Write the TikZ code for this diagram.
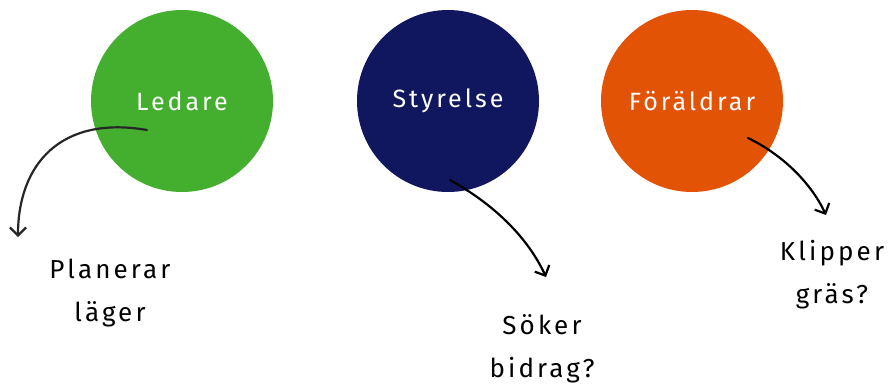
\documentclass[tikz,border=0pt]{standalone}
\usepackage{fontspec}
\setmainfont{Fira Sans}[LetterSpace=12]
\usetikzlibrary{arrows.meta}
\definecolor{leadgreen}{HTML}{44AF2E}
\definecolor{boardnavy}{HTML}{10175E}
\definecolor{parentorange}{HTML}{E35306}
\begin{document}
\begin{tikzpicture}[x=1pt,y=-1pt,line width=2.2pt,line cap=round,
  >={Straight Barb[length=8pt,width=16pt]},
  role/.style={circle,minimum size=182pt,inner sep=0pt,text=white,
    font=\fontsize{25}{27}\selectfont},
  task/.style={align=center,font=\fontsize{26}{43}\selectfont}]
  \useasboundingbox (0,0) rectangle (889,391);
  % the three groups
  \node[role,fill=leadgreen] (leader) at (182,101) {Ledare};
  \node[role,fill=boardnavy] (board) at (448,101) {Styrelse};
  \node[role,fill=parentorange] (parents) at (692,101) {Föräldrar};
  % what they do
  \node[task] (plan) at (110,293) {Planerar\\läger};
  \node[task] (funds) at (542,349) {Söker\\bidrag?};
  \node[task] (grass) at (832,275) {Klipper\\gräs?};
  \coordinate (planfrom) at (147,130);
  \coordinate (planto) at (18,237);
  \coordinate (fundsfrom) at (450,180);
  \coordinate (fundsto) at (546,277);
  \coordinate (grassfrom) at (748,138);
  \coordinate (grassto) at (826,215);
  \draw[->,black!85] (planfrom) .. controls (60,115) and (18,165) .. (planto);
  \draw[->,black] (fundsfrom) .. controls (495,205) and (528,238) .. (fundsto);
  \draw[->,black] (grassfrom) .. controls (785,156) and (812,185) .. (grassto);
\end{tikzpicture}
\end{document}
